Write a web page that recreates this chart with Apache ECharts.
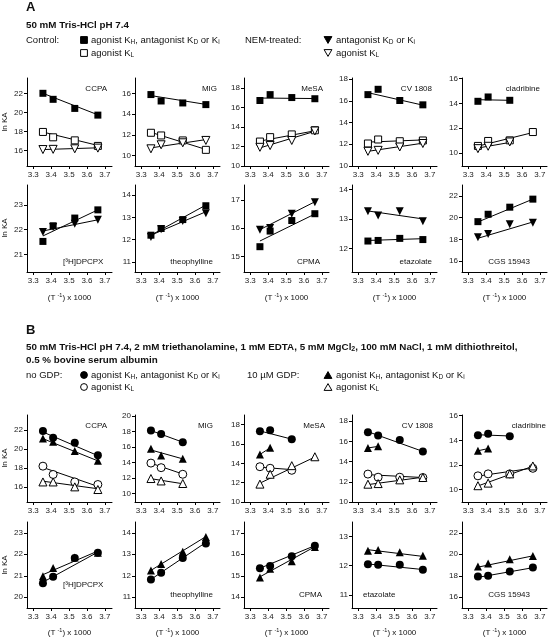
<!DOCTYPE html>
<html><head><meta charset="utf-8">
<script src="https://cdn.jsdelivr.net/npm/echarts@6/dist/echarts.min.js"></script>
<style>html,body{margin:0;padding:0;background:#fff}#c{width:549px;height:640px}</style>
</head><body><div id="c"></div>
<script>
// ---------- DATA ----------
const xTemps = [3.354, 3.411, 3.532, 3.661];      // (1/T) x 1000 at 25, 20, 10, 0 °C
const xTicks = [3.3, 3.4, 3.5, 3.6, 3.7];
const ligandNames = ['CCPA', 'MIG', 'MeSA', 'CV 1808', 'cladribine',
                     '[³H]DPCPX', 'theophylline', 'CPMA', 'etazolate', 'CGS 15943'];

// Section A: control (KH/KD filled square, KL open square), NEM-treated (filled / open down-triangle)
const A_CCPA_KH = [22.0, 21.37, 20.42, 19.72];   const A_CCPA_KH_fit = [22.0, 19.75];
const A_CCPA_KL = [17.96, 17.4, 17.08, 16.5];    const A_CCPA_KL_fit = [17.95, 16.55];
const A_CCPA_NEM_KL = [16.12, 16.14, 16.2, 16.27]; const A_CCPA_NEM_KL_fit = [16.12, 16.3];
const A_MIG_KH = [15.9, 15.28, 15.09, 14.93];    const A_MIG_KH_fit = [15.8, 14.95];
const A_MIG_KL = [12.21, 11.95, 11.47, 10.56];   const A_MIG_KL_fit = [12.25, 10.6];
const A_MIG_NEM_KL = [10.66, 11.05, 11.24, 11.47]; const A_MIG_NEM_KL_fit = [10.75, 11.55];
const A_MeSA_KH = [16.7, 17.3, 17.0, 16.88];     const A_MeSA_KH_fit = [16.95, 16.9];
const A_MeSA_KL = [12.5, 12.95, 13.23, 13.65];   const A_MeSA_KL_fit = [12.55, 13.6];
const A_MeSA_NEM_KL = [11.91, 12.09, 12.61, 13.58]; const A_MeSA_NEM_KL_fit = [11.85, 13.55];
const A_CV_KH = [16.57, 17.06, 16.03, 15.63];    const A_CV_KH_fit = [16.75, 15.6];
const A_CV_KL = [12.07, 12.44, 12.28, 12.35];    const A_CV_KL_fit = [12.2, 12.4];
const A_CV_NEM_KL = [11.35, 11.44, 11.75, 12.07]; const A_CV_NEM_KL_fit = [11.35, 12.1];
const A_CLA_KH = [14.17, 14.52, 14.25, null];    const A_CLA_KH_fit = [14.3, 14.25];
const A_CLA_KL = [10.57, 10.97, 11.02, 11.69];   const A_CLA_KL_fit = [10.55, 11.65];
const A_CLA_NEM_KL = [10.35, 10.54, 10.89, null]; const A_CLA_NEM_KL_fit = [10.4, 10.85];
const A_DPCPX_KD = [21.53, 22.16, 22.47, 22.8];  const A_DPCPX_KD_fit = [21.75, 22.8];
const A_DPCPX_NEM = [21.91, 22.11, 22.24, 22.4]; const A_DPCPX_NEM_fit = [21.95, 22.4];
const A_THEO_KI = [12.2, 12.5, 12.9, 13.52];     const A_THEO_KI_fit = [12.2, 13.55];
const A_THEO_NEM = [12.12, 12.47, 12.84, 13.18]; const A_THEO_NEM_fit = [12.2, 13.25];
const A_CPMA_KI = [15.35, 15.9, 16.27, 16.51];   const A_CPMA_KI_fit = [15.55, 16.5];
const A_CPMA_NEM = [15.95, 16.01, 16.51, 16.91]; const A_CPMA_NEM_fit = [15.95, 16.93];
const A_ETA_KI = [12.25, 12.27, 12.34, 12.3];    const A_ETA_KI_fit = [12.27, 12.33];
const A_ETA_NEM = [13.26, 13.12, 13.26, 12.92];  const A_ETA_NEM_fit = [13.27, 13.0];
const A_CGS_KI = [19.63, 20.31, 20.96, 21.7];    const A_CGS_KI_fit = [19.6, 21.7];
const A_CGS_NEM = [18.19, 18.49, 19.39, 19.54];  const A_CGS_NEM_fit = [18.1, 19.6];

// Section B: no GDP (filled / open circle), 10 µM GDP (filled / open up-triangle)
const B_CCPA_KH = [21.9, 21.19, 20.66, 19.35];   const B_CCPA_KH_fit = [21.8, 19.3];
const B_CCPA_GDP_KH = [21.12, 20.77, 19.78, 18.75]; const B_CCPA_GDP_KH_fit = [21.1, 18.75];
const B_CCPA_KL = [18.19, 17.31, 16.52, 16.25];  const B_CCPA_KL_fit = [18.05, 16.05];
const B_CCPA_GDP_KL = [16.52, 16.52, 16.0, 15.72]; const B_CCPA_GDP_KL_fit = [16.6, 15.8];
const B_MIG_KH = [18.09, 17.67, 16.6, null];     const B_MIG_KH_fit = [18.1, 16.6];
const B_MIG_GDP_KH = [15.75, 14.9, 14.47, null]; const B_MIG_GDP_KH_fit = [15.6, 14.45];
const B_MIG_KL = [13.91, 13.32, 12.47, null];    const B_MIG_KL_fit = [13.9, 12.5];
const B_MIG_GDP_KL = [11.92, 11.61, 11.28, null]; const B_MIG_GDP_KL_fit = [11.9, 11.25];
const B_MeSA_KH = [17.31, 17.42, 16.49, null];   const B_MeSA_KH_fit = [17.35, 16.5];
const B_MeSA_GDP_KH = [14.92, 15.6, null, null]; const B_MeSA_GDP_KH_fit = [14.92, 15.6];
const B_MeSA_KL = [13.65, 13.49, 13.28, null];   const B_MeSA_KL_fit = [13.6, 13.35];
const B_MeSA_GDP_KL = [11.85, 12.87, 13.76, 14.68]; const B_MeSA_GDP_KL_fit = [11.95, 14.65];
const B_CV_KH = [16.9, 16.57, 16.14, 15.0];      const B_CV_KH_fit = [16.95, 15.0];
const B_CV_GDP_KH = [15.34, 15.5, null, null];   const B_CV_GDP_KH_fit = [15.34, 15.5];
const B_CV_KL = [12.76, 12.45, 12.45, 12.42];    const B_CV_KL_fit = [12.7, 12.42];
const B_CV_GDP_KL = [11.76, 11.82, 12.19, 12.42]; const B_CV_GDP_KL_fit = [11.72, 12.45];
const B_CLA_KH = [14.4, 14.53, 14.32, null];     const B_CLA_KH_fit = [14.45, 14.35];
const B_CLA_GDP_KH = [13.15, 13.33, null, null]; const B_CLA_GDP_KH_fit = [13.15, 13.33];
const B_CLA_KL = [11.12, 11.28, 11.28, 11.73];   const B_CLA_KL_fit = [11.1, 11.75];
const B_CLA_GDP_KL = [10.32, 10.53, 11.28, 11.92]; const B_CLA_GDP_KL_fit = [10.3, 11.9];
const B_DPCPX_KD = [20.65, 20.95, 21.82, 22.07]; const B_DPCPX_KD_fit = [20.7, 22.1];
const B_DPCPX_GDP = [20.98, 21.36, 21.85, 22.07]; const B_DPCPX_GDP_fit = [21.05, 22.15];
const B_THEO_KI = [11.83, 12.14, 12.82, 13.5];   const B_THEO_KI_fit = [11.83, 13.55];
const B_THEO_GDP = [12.24, 12.55, 13.12, 13.8];  const B_THEO_GDP_fit = [12.25, 13.82];
const B_CPMA_KI = [15.35, 15.45, 15.91, 16.39];  const B_CPMA_KI_fit = [15.35, 16.4];
const B_CPMA_GDP = [14.92, 15.32, 15.68, 16.34]; const B_CPMA_GDP_fit = [14.95, 16.35];
const B_ETA_KI = [12.05, 12.03, 12.03, 11.86];   const B_ETA_KI_fit = [12.06, 11.87];
const B_ETA_GDP = [12.51, 12.54, 12.46, 12.34];  const B_ETA_GDP_fit = [12.55, 12.32];
const B_CGS_KI = [17.94, 17.99, 18.4, 18.77];    const B_CGS_KI_fit = [17.85, 18.75];
const B_CGS_GDP = [18.86, 19.14, 19.54, 19.84];  const B_CGS_GDP_fit = [18.8, 19.85];

// y-axis tick labels per panel
const yTicksA = [[16,18,20,22],[10,12,14,16],[10,12,14,16,18],[10,12,14,16,18],[10,12,14,16],
                 [21,22,23],[11,12,13,14],[15,16,17],[12,13,14],[16,18,20,22]];
const yTicksB = [[16,18,20,22],[10,12,14,16,18,20],[10,12,14,16,18],[10,12,14,16,18],[10,12,14,16],
                 [20,21,22,23],[11,12,13,14],[14,15,16,17],[11,12,13],[16,18,20,22]];

// ---------- LAYOUT / STYLE ----------
const FONT = '"Liberation Sans", Arial, Helvetica, sans-serif';
const colLeft = [27, 135, 244, 352, 462];
const rowTop = [78, 185, 415, 522];
const rowBottom = [166, 272, 502, 608];
const GW = 85;
const yExtA = [[14.4,23.6],[9,17.5],[10,19],[10,18.1],[8.95,16.05],[20.3,23.8],[10.55,14.45],[14.46,17.52],[11.2,14.15],[15,23]];
const yExtB = [[14.4,23.6],[8.9,20.1],[10,19],[10,18.6],[9,16.05],[19.5,23.5],[10.5,14.5],[13.5,17.5],[10.55,13.5],[15,23]];
// panel label placement [x, y, align]
const labA = [[107,89,'right'],[217,89,'right'],[323,89,'right'],[432,89,'right'],[540,89,'right'],
              [63,262,'left'],[213,262,'right'],[320,262,'right'],[432,262,'right'],[530,262,'right']];
const labB = [[107,426,'right'],[213,426,'right'],[325,426,'right'],[433,426,'right'],[546,426,'right'],
              [63,585,'left'],[213,595,'right'],[322,595,'right'],[363,595,'left'],[530,595,'right']];

const mk = {
  sqF: {symbol:'rect', size:7, fill:'#000', rot:0},
  sqO: {symbol:'rect', size:7, fill:'#fff', rot:0},
  tdF: {symbol:'triangle', size:8, fill:'#000', rot:180},
  tdO: {symbol:'triangle', size:8, fill:'#fff', rot:180},
  cF:  {symbol:'circle', size:8, fill:'#000', rot:0},
  cO:  {symbol:'circle', size:8, fill:'#fff', rot:0},
  tuF: {symbol:'triangle', size:8, fill:'#000', rot:0},
  tuO: {symbol:'triangle', size:8, fill:'#fff', rot:0}
};

const setsA = [
  [['sqF',A_CCPA_KH,A_CCPA_KH_fit],['sqO',A_CCPA_KL,A_CCPA_KL_fit],['tdO',A_CCPA_NEM_KL,A_CCPA_NEM_KL_fit]],
  [['sqF',A_MIG_KH,A_MIG_KH_fit],['sqO',A_MIG_KL,A_MIG_KL_fit],['tdO',A_MIG_NEM_KL,A_MIG_NEM_KL_fit]],
  [['sqF',A_MeSA_KH,A_MeSA_KH_fit],['sqO',A_MeSA_KL,A_MeSA_KL_fit],['tdO',A_MeSA_NEM_KL,A_MeSA_NEM_KL_fit]],
  [['sqF',A_CV_KH,A_CV_KH_fit],['sqO',A_CV_KL,A_CV_KL_fit],['tdO',A_CV_NEM_KL,A_CV_NEM_KL_fit]],
  [['sqF',A_CLA_KH,A_CLA_KH_fit],['sqO',A_CLA_KL,A_CLA_KL_fit],['tdO',A_CLA_NEM_KL,A_CLA_NEM_KL_fit]],
  [['sqF',A_DPCPX_KD,A_DPCPX_KD_fit],['tdF',A_DPCPX_NEM,A_DPCPX_NEM_fit]],
  [['sqF',A_THEO_KI,A_THEO_KI_fit],['tdF',A_THEO_NEM,A_THEO_NEM_fit]],
  [['sqF',A_CPMA_KI,A_CPMA_KI_fit],['tdF',A_CPMA_NEM,A_CPMA_NEM_fit]],
  [['sqF',A_ETA_KI,A_ETA_KI_fit],['tdF',A_ETA_NEM,A_ETA_NEM_fit]],
  [['sqF',A_CGS_KI,A_CGS_KI_fit],['tdF',A_CGS_NEM,A_CGS_NEM_fit]]
];
const setsB = [
  [['cF',B_CCPA_KH,B_CCPA_KH_fit],['tuF',B_CCPA_GDP_KH,B_CCPA_GDP_KH_fit],['cO',B_CCPA_KL,B_CCPA_KL_fit],['tuO',B_CCPA_GDP_KL,B_CCPA_GDP_KL_fit]],
  [['cF',B_MIG_KH,B_MIG_KH_fit],['tuF',B_MIG_GDP_KH,B_MIG_GDP_KH_fit],['cO',B_MIG_KL,B_MIG_KL_fit],['tuO',B_MIG_GDP_KL,B_MIG_GDP_KL_fit]],
  [['cF',B_MeSA_KH,B_MeSA_KH_fit],['tuF',B_MeSA_GDP_KH,B_MeSA_GDP_KH_fit],['cO',B_MeSA_KL,B_MeSA_KL_fit],['tuO',B_MeSA_GDP_KL,B_MeSA_GDP_KL_fit]],
  [['cF',B_CV_KH,B_CV_KH_fit],['tuF',B_CV_GDP_KH,B_CV_GDP_KH_fit],['cO',B_CV_KL,B_CV_KL_fit],['tuO',B_CV_GDP_KL,B_CV_GDP_KL_fit]],
  [['cF',B_CLA_KH,B_CLA_KH_fit],['tuF',B_CLA_GDP_KH,B_CLA_GDP_KH_fit],['cO',B_CLA_KL,B_CLA_KL_fit],['tuO',B_CLA_GDP_KL,B_CLA_GDP_KL_fit]],
  [['cF',B_DPCPX_KD,B_DPCPX_KD_fit],['tuF',B_DPCPX_GDP,B_DPCPX_GDP_fit]],
  [['cF',B_THEO_KI,B_THEO_KI_fit],['tuF',B_THEO_GDP,B_THEO_GDP_fit]],
  [['cF',B_CPMA_KI,B_CPMA_KI_fit],['tuF',B_CPMA_GDP,B_CPMA_GDP_fit]],
  [['cF',B_ETA_KI,B_ETA_KI_fit],['tuF',B_ETA_GDP,B_ETA_GDP_fit]],
  [['cF',B_CGS_KI,B_CGS_KI_fit],['tuF',B_CGS_GDP,B_CGS_GDP_fit]]
];

const grid = [], xAxis = [], yAxis = [], series = [], graphic = [];
const AX = {color:'#000', width:1};

function addPanel(rowIdx, col, ext, ticks, sets, lab, name) {
  const idx = grid.length;
  grid.push({left: colLeft[col], top: rowTop[rowIdx], width: GW, height: rowBottom[rowIdx]-rowTop[rowIdx], containLabel:false});
  xAxis.push({type:'value', gridIndex:idx, min:3.265, max:3.74,
    axisLine:{show:true, onZero:false, lineStyle:AX},
    axisTick:{show:true, inside:false, length:3, customValues:xTicks, lineStyle:AX},
    axisLabel:{show:true, customValues:xTicks, formatter:v=>v.toFixed(1), fontSize:8, color:'#222', fontFamily:FONT, margin:5},
    splitLine:{show:false}});
  yAxis.push({type:'value', gridIndex:idx, min:ext[0], max:ext[1],
    axisLine:{show:true, onZero:false, lineStyle:AX},
    axisTick:{show:true, inside:false, length:3, customValues:ticks, lineStyle:AX},
    axisLabel:{show:true, customValues:ticks, formatter:v=>String(v), fontSize:8, color:'#222', fontFamily:FONT, margin:4},
    splitLine:{show:false}});
  sets.forEach(([k, vals, fit]) => {
    const m = mk[k];
    const pts = [];
    vals.forEach((v,i)=>{ if (v !== null) pts.push([xTemps[i], v]); });
    const first = vals.findIndex(v=>v!==null);
    let last = vals.length-1; while (vals[last]===null) last--;
    series.push({type:'line', xAxisIndex:idx, yAxisIndex:idx, data:[[xTemps[first], fit[0]],[xTemps[last], fit[1]]],
      symbol:'none', lineStyle:{color:'#000', width:1}, z:2, silent:true});
    series.push({type:'scatter', xAxisIndex:idx, yAxisIndex:idx, data:pts, symbol:m.symbol, symbolSize:m.size,
      symbolRotate:m.rot, itemStyle:{color:m.fill, borderColor:'#000', borderWidth: m.fill==='#fff'?1:0, opacity:1}, z:3, silent:true});
  });
  graphic.push({type:'text', x:lab[0], y:lab[1], silent:true,
    style:{text: name, fontSize:8, fontFamily:FONT, fill:'#111', align:lab[2], verticalAlign:'middle'}});
}

for (let i = 0; i < 10; i++) {
  addPanel(i<5?0:1, i%5, yExtA[i], yTicksA[i], setsA[i], labA[i], ligandNames[i]);
}
for (let i = 0; i < 10; i++) {
  addPanel(i<5?2:3, i%5, yExtB[i], yTicksB[i], setsB[i], labB[i], ligandNames[i]);
}

// y-axis titles and x-axis titles
[122, 228, 458, 565].forEach(y => graphic.push({type:'text', x:5, y:y, rotation:Math.PI/2, silent:true,
  style:{text:'ln KA', fontSize:8, fontFamily:FONT, fill:'#111', align:'center', verticalAlign:'middle'}}));
const richT = {n:{fontSize:8, fontFamily:FONT, fill:'#111'}, p:{fontSize:5.5, fontFamily:FONT, fill:'#111', padding:[0,0,5,0]}};
[298, 633].forEach(y => colLeft.forEach(l => graphic.push({type:'text', x:l+GW/2, y:y, silent:true,
  style:{text:'{n|(T }{p|-1}{n|) x 1000}', rich:richT, align:'center', verticalAlign:'middle'}})));

// headers & legends
const richL = {n:{fontSize:9.5, fontFamily:FONT, fill:'#111'}, s:{fontSize:6.5, fontFamily:FONT, fill:'#111', padding:[5,0,0,0]},
               b:{fontSize:9.8, fontFamily:FONT, fontWeight:'bold', fill:'#111'}, bs:{fontSize:7, fontFamily:FONT, fontWeight:'bold', fill:'#111', padding:[5,0,0,0]}};
function txt(x, y, t, extra) {
  graphic.push({type:'text', x:x, y:y, silent:true, style:Object.assign({text:t, rich:richL, align:'left', verticalAlign:'middle'}, extra||{})});
}
function sym(k, x, y) {
  const m = mk[k], s = 3.4;
  const style = {fill:m.fill, stroke:'#000', lineWidth:1};
  if (m.symbol==='rect') graphic.push({type:'rect', silent:true, shape:{x:x-s, y:y-s, width:2*s, height:2*s}, style});
  else if (m.symbol==='circle') graphic.push({type:'circle', silent:true, shape:{cx:x, cy:y, r:s}, style});
  else {
    const pts = m.rot ? [[x-s-0.5,y-s],[x+s+0.5,y-s],[x,y+s]] : [[x-s-0.5,y+s],[x+s+0.5,y+s],[x,y-s]];
    graphic.push({type:'polygon', silent:true, shape:{points:pts}, style});
  }
}
const KH = '{n|agonist K}{s|H}{n|, antagonist K}{s|D}{n| or K}{s|i}';
const KD = '{n|antagonist K}{s|D}{n| or K}{s|i}';
const KL = '{n|agonist K}{s|L}';

txt(26, 7, 'A', {fontSize:13, fontWeight:'bold', fontFamily:FONT, fill:'#111', rich:null});
txt(26, 25, '{b|50 mM Tris-HCl pH 7.4}');
txt(26, 40, '{n|Control:}');
sym('sqF', 84, 40); txt(91, 40, KH);
sym('sqO', 84, 53); txt(91, 53, KL);
txt(245, 40, '{n|NEM-treated:}');
sym('tdF', 328, 40); txt(336, 40, KD);
sym('tdO', 328, 53); txt(336, 53, KL);

txt(26, 330, 'B', {fontSize:13, fontWeight:'bold', fontFamily:FONT, fill:'#111', rich:null});
txt(26, 347, '{b|50 mM Tris-HCl pH 7.4, 2 mM triethanolamine, 1 mM EDTA, 5 mM MgCl}{bs|2}{b|, 100 mM NaCl, 1 mM dithiothreitol,}');
txt(26, 360, '{b|0.5 % bovine serum albumin}');
txt(26, 375, '{n|no GDP:}');
sym('cF', 84, 375); txt(91, 375, KH);
sym('cO', 84, 387); txt(91, 387, KL);
txt(247, 375, '{n|10 µM GDP:}');
sym('tuF', 328, 375); txt(336, 375, KH);
sym('tuO', 328, 387); txt(336, 387, KL);

const chart = echarts.init(document.getElementById('c'), null, {renderer:'canvas'});
chart.setOption({animation:false, backgroundColor:'#fff', grid, xAxis, yAxis, series, graphic});
</script></body></html>
